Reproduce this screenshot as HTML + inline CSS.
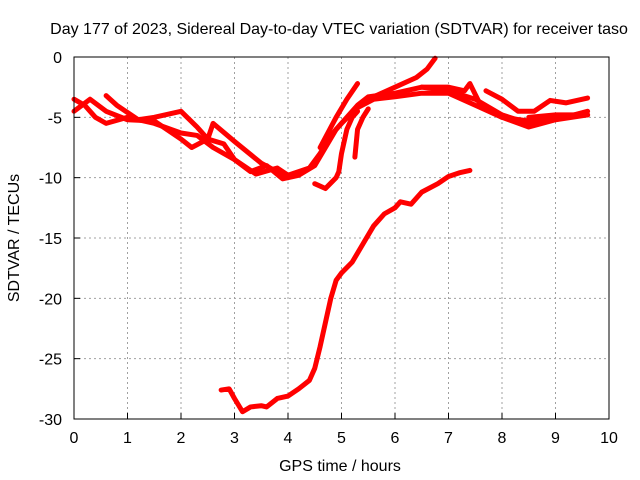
<!DOCTYPE html>
<html><head><meta charset="utf-8"><style>
body{margin:0;background:#fff}
svg{display:block;font-family:"Liberation Sans",sans-serif;font-size:16px}
</style></head><body>
<svg id="chart" width="640" height="480">
<text x="339" y="34" text-anchor="middle">Day 177 of 2023, Sidereal Day-to-day VTEC variation (SDTVAR) for receiver taso</text>
<text x="340" y="471" text-anchor="middle">GPS time / hours</text>
<text transform="translate(19,238) rotate(-90)" text-anchor="middle">SDTVAR / TECUs</text>
<g id="grid"></g><g id="ticks"></g><g id="series"></g>
<rect x="74" y="57" width="535" height="362" fill="none" stroke="#000"/>
</svg>
<script>
const xTicks=[0,1,2,3,4,5,6,7,8,9,10];
const yTicks=[0,-5,-10,-15,-20,-25,-30];
const trace1=[[2.75,-27.6],[2.9,-27.5],[3.0,-28.3],[3.15,-29.4],[3.3,-29],[3.5,-28.9],[3.6,-29],[3.8,-28.3],[4.0,-28.1],[4.2,-27.5],[4.4,-26.8],[4.5,-25.8],[4.6,-24],[4.7,-22],[4.8,-20],[4.9,-18.5],[5.0,-17.9],[5.2,-17],[5.4,-15.5],[5.6,-14],[5.8,-13],[6.0,-12.5],[6.1,-12],[6.3,-12.2],[6.5,-11.2],[6.8,-10.5],[7.0,-9.9],[7.2,-9.6],[7.4,-9.4]];
const trace2=[[4.5,-10.5],[4.7,-10.9],[4.9,-10],[4.95,-9.5],[5.0,-8],[5.1,-6],[5.2,-5],[5.3,-4.5]];
const trace3=[[5.25,-8.3],[5.3,-6],[5.4,-5],[5.5,-4.3]];
const trace4=[[0,-3.5],[0.2,-4],[0.4,-5],[0.6,-5.5],[1,-5],[1.5,-5.5],[2,-6.3],[2.3,-6.5],[2.6,-7.5],[3,-8.5],[3.3,-9.5],[3.6,-9],[3.9,-10.1],[4.2,-9.8],[4.5,-9],[4.7,-7.5],[4.9,-6],[5.1,-5],[5.3,-4],[5.5,-3.3],[6,-3],[6.5,-2.5],[7,-2.8],[7.5,-3.5],[8,-4.8],[8.5,-5.5],[9,-5.2],[9.6,-4.5]];
const trace5=[[0,-4.5],[0.3,-3.5],[0.6,-4.5],[1,-5.2],[1.5,-5.3],[2,-6.8],[2.2,-7.5],[2.5,-6.8],[2.8,-7.2],[3,-8.5],[3.4,-9.7],[3.8,-9.2],[4,-9.8],[4.4,-9.2],[4.6,-8],[4.8,-6.5],[5,-5.5],[5.3,-4.2],[5.6,-3.5],[6,-3.3],[6.5,-3],[7,-3],[7.5,-4],[8,-5],[8.5,-5.3],[9,-5],[9.6,-4.8]];
const trace6=[[0.6,-3.2],[0.8,-4],[1.2,-5.2],[1.5,-5],[2,-4.5],[2.3,-5.8],[2.5,-6.8],[2.6,-5.5],[3,-7],[3.5,-8.8],[4,-10]];
const trace7=[[4.6,-7.5],[4.9,-5],[5.1,-3.5],[5.3,-2.2]];
const trace8=[[5.5,-3.5],[6,-2.5],[6.4,-1.7],[6.6,-1],[6.75,-0.1]];
const trace9=[[6.5,-2.5],[7,-2.5],[7.3,-2.8],[7.4,-2.2],[7.6,-4],[8,-5],[8.5,-5.8],[9,-5.2],[9.6,-4.8]];
const trace10=[[7.7,-2.8],[8,-3.5],[8.3,-4.5],[8.6,-4.5],[8.9,-3.6],[9.2,-3.8],[9.6,-3.4]];
const trace11=[[8.5,-5],[9,-4.8],[9.6,-4.8]];
const allTraces=[trace1,trace2,trace3,trace4,trace5,trace6,trace7,trace8,trace9,trace10,trace11];
const NS="http://www.w3.org/2000/svg";
const X0=74,X1=609,Y0=57,Y1=419;
const xs=v=>X0+(v-0)/10*(X1-X0);
const ys=v=>Y0+(0-v)/30*(Y1-Y0);
const grid=document.getElementById('grid'),ticks=document.getElementById('ticks'),ser=document.getElementById('series');
function mk(t,a){const e=document.createElementNS(NS,t);for(const k in a)e.setAttribute(k,a[k]);return e;}
xTicks.forEach(v=>{
 const x=xs(v);
 if(v>0&&v<10){const g=mk('line',{x1:x,x2:x,y1:Y0,y2:Y1,stroke:'#a0a0a0','stroke-dasharray':'2,3'});
 
 
 grid.appendChild(g);}
 const t=mk('line',{x1:x,x2:x,y1:Y1,y2:Y1-6,stroke:'#000'});
 
 
 ticks.appendChild(t);
 const l=mk('text',{x:x,y:Y1+24,'text-anchor':'middle'});l.textContent=v;
 
 
 ticks.appendChild(l);
});
yTicks.forEach(v=>{
 const y=ys(v);
 if(v<0&&v>-30){const g=mk('line',{x1:X0,x2:X1,y1:y,y2:y,stroke:'#a0a0a0','stroke-dasharray':'2,3'});
 
 
 grid.appendChild(g);}
 const t=mk('line',{x1:X0,x2:X0+6,y1:y,y2:y,stroke:'#000'});
 
 
 ticks.appendChild(t);
 const l=mk('text',{x:X0-12,y:y+6,'text-anchor':'end'});l.textContent=v;
 
 
 ticks.appendChild(l);
});
allTraces.forEach((tr,i)=>{
 const p=mk('polyline',{points:tr.map(d=>xs(d[0])+','+ys(d[1])).join(' '),fill:'none',stroke:'#ff0000','stroke-width':5,'stroke-linejoin':'round','stroke-linecap':'round'});
 
 
 ser.appendChild(p);
});
</script>
</body></html>
